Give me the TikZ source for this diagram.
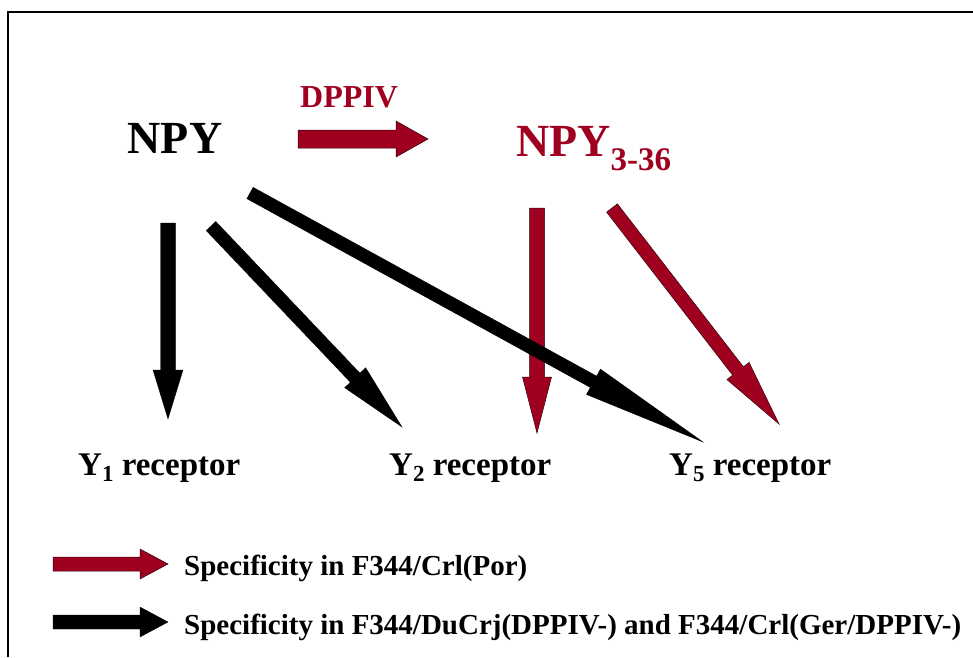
\documentclass[tikz,border=0pt]{standalone}
\usepackage{fontspec}
\setmainfont{Liberation Serif}
\usetikzlibrary{calc}
\definecolor{npyred}{RGB}{160,0,32}
\tikzset{
  redarrow/.style={fill=npyred,draw=black!70!npyred,line width=0.5pt,line join=miter},
  blackarrow/.style={fill=black,draw=black,line width=0.3pt,line join=miter},
  lbl/.style={inner sep=0pt,font=\bfseries},
}
% #1 style, #2 start, #3 tip, #4 shaft half width, #5 head half width, #6 head length
\newcommand\blockarrow[6]{%
  \coordinate (bah) at ($(#3)!#6!(#2)$);
  \draw[#1] ($(#2)!#4!90:(#3)$) -- ($(bah)!#4!90:(#3)$) -- ($(bah)!#5!90:(#3)$) -- (#3)
    -- ($(bah)!#5!-90:(#3)$) -- ($(bah)!#4!-90:(#3)$) -- ($(#2)!#4!-90:(#3)$) -- cycle;
}
\begin{document}
\begin{tikzpicture}[x=1pt,y=-1pt]
\useasboundingbox (0,0) rectangle (973,657);
\fill[white] (0,0) rectangle (973,657);
% frame
\draw[line width=2.5pt] (8,657) -- (8,12) -- (973,12);

% texts
\node[lbl,anchor=base,font=\bfseries\fontsize{46}{46}\selectfont] (npy) at (175,153) {NPY};
\node[lbl,anchor=base west,text=npyred,font=\bfseries\fontsize{32}{32}\selectfont] (dppiv) at (300,107) {DPPIV};
\node[lbl,anchor=base west,text=npyred,font=\bfseries\fontsize{46}{46}\selectfont] (npy336) at (516,156)
  {NPY\raisebox{-14pt}{\fontsize{33}{33}\selectfont 3-36}};

\node[lbl,anchor=base west,font=\bfseries\fontsize{33}{33}\selectfont] (y1) at (78,475)
  {Y\raisebox{-6pt}{\fontsize{23}{23}\selectfont 1} receptor};
\node[lbl,anchor=base west,font=\bfseries\fontsize{33}{33}\selectfont] (y2) at (389,475)
  {Y\raisebox{-6pt}{\fontsize{23}{23}\selectfont 2} receptor};
\node[lbl,anchor=base west,font=\bfseries\fontsize{33}{33}\selectfont] (y5) at (669,475)
  {Y\raisebox{-6pt}{\fontsize{23}{23}\selectfont 5} receptor};

\node[lbl,anchor=base west,font=\bfseries\fontsize{29}{29}\selectfont] (leg1) at (184,575)
  {Specificity in F344/Crl(Por)};
\node[lbl,anchor=base west,font=\bfseries\fontsize{29}{29}\selectfont] (leg2) at (184,634)
  {Specificity in F344/DuCrj(DPPIV-) and F344/Crl(Ger/DPPIV-)};

% arrow end points
\coordinate (d1) at (298,139);  \coordinate (d2) at (428,139);
\coordinate (a1s) at (168,223); \coordinate (a1e) at (168,419);
\coordinate (a2s) at (211,226); \coordinate (a2e) at (402,427);
\coordinate (a3s) at (250,193); \coordinate (a3e) at (703,442);
\coordinate (a4s) at (537,208); \coordinate (a4e) at (537,433);
\coordinate (a5s) at (612,208); \coordinate (a5e) at (779,424);
\coordinate (l1s) at (53,564);  \coordinate (l1e) at (168,564);
\coordinate (l2s) at (53,622);  \coordinate (l2e) at (168,622);

% arrows
\blockarrow{redarrow}{d1}{d2}{9pt}{18pt}{32pt}
\blockarrow{redarrow}{a4s}{a4e}{7.5pt}{14.5pt}{56pt}
\blockarrow{redarrow}{a5s}{a5e}{6.8pt}{14pt}{67pt}
\blockarrow{blackarrow}{a1s}{a1e}{7.5pt}{15pt}{49pt}
\blockarrow{blackarrow}{a2s}{a2e}{6.6pt}{14.5pt}{68pt}
\blockarrow{blackarrow}{a3s}{a3e}{6.5pt}{14.5pt}{125pt}
\blockarrow{redarrow}{l1s}{l1e}{7pt}{15pt}{28pt}
\blockarrow{blackarrow}{l2s}{l2e}{7pt}{15pt}{28pt}
\end{tikzpicture}
\end{document}
